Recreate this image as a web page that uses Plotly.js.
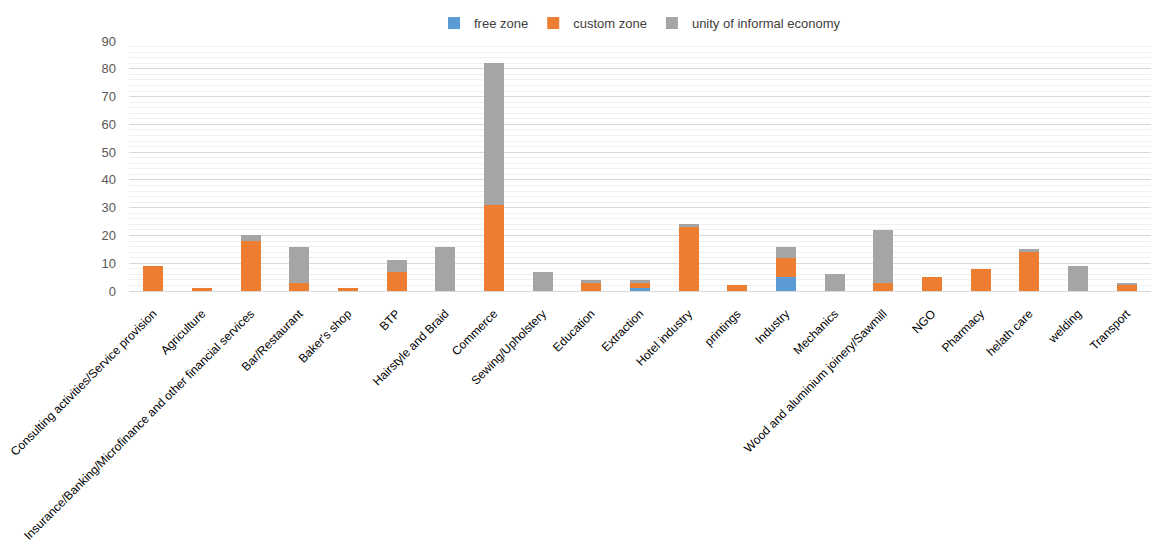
<!DOCTYPE html>
<html>
<head>
<meta charset="utf-8">
<script src="https://cdn.plot.ly/plotly-3.0.1.min.js"></script>
<style>html,body{margin:0;padding:0;background:#fff;}#chart{width:1175px;height:540px;}</style>
</head>
<body>
<div id="chart"></div>
<script>
var categories = [
  "Consulting activities/Service provision",
  "Agriculture",
  "Insurance/Banking/Microfinance and other financial services",
  "Bar/Restaurant",
  "Baker's shop",
  "BTP",
  "Hairstyle and Braid",
  "Commerce",
  "Sewing/Upholstery",
  "Education",
  "Extraction",
  "Hotel industry",
  "printings",
  "Industry",
  "Mechanics",
  "Wood and aluminium joinery/Sawmill",
  "NGO",
  "Pharmacy",
  "helath care",
  "welding",
  "Transport"
];
var freeZone     = [0, 0, 0, 0, 0, 0, 0, 0, 0, 0, 1, 0, 0, 5, 0, 0, 0, 0, 0, 0, 0];
var customZone   = [9, 1, 18, 3, 1, 7, 0, 31, 0, 3, 2, 23, 2, 7, 0, 3, 5, 8, 14, 0, 2];
var informalUnit = [0, 0, 2, 13, 0, 4, 16, 51, 7, 1, 1, 1, 0, 4, 6, 19, 0, 0, 1, 9, 1];
var seriesNames = ["free zone", "custom zone", "unity of informal economy"];
var yTicks = [0, 10, 20, 30, 40, 50, 60, 70, 80, 90];

var colors = ["#5B9BD5", "#ED7D31", "#A5A5A5"];
var dataSets = [freeZone, customZone, informalUnit];
var traces = dataSets.map(function (vals, i) {
  return {
    type: "bar",
    name: seriesNames[i],
    x: categories,
    y: vals,
    marker: { color: colors[i], line: { width: 0 } },
    hoverinfo: "x+y+name"
  };
});

var layout = {
  width: 1175,
  height: 540,
  barmode: "stack",
  bargap: 0.59,
  margin: { l: 129, r: 24, t: 41, b: 249, pad: 0 },
  paper_bgcolor: "#ffffff",
  plot_bgcolor: "#ffffff",
  font: { family: "Liberation Sans, Arial, sans-serif", size: 12, color: "#404040" },
  showlegend: true,
  legend: {
    orientation: "h",
    x: 0.5, xanchor: "center",
    y: 0.985, yanchor: "top",
    yref: "container",
    font: { size: 13, color: "#404040" },
    traceorder: "normal"
  },
  xaxis: {
    type: "category",
    tickangle: -45,
    tickfont: { size: 12, color: "#000000" },
    ticklabelstandoff: 10,
    showgrid: false,
    showline: true,
    linecolor: "#d9d9d9",
    linewidth: 1,
    ticks: "",
    automargin: false
  },
  yaxis: {
    range: [0, 90],
    tickvals: yTicks,
    ticktext: yTicks.map(String),
    tickfont: { size: 13, color: "#595959" },
    ticklabelstandoff: 12,
    showgrid: true,
    gridcolor: "#d9d9d9",
    gridwidth: 1,
    zeroline: true,
    zerolinecolor: "#d9d9d9",
    showline: false,
    ticks: "",
    automargin: false,
    minor: { dtick: 2, showgrid: true, gridcolor: "#f0f0f0", gridwidth: 1 }
  }
};

Plotly.newPlot("chart", traces, layout, { displayModeBar: false, staticPlot: true });
</script>
</body>
</html>
